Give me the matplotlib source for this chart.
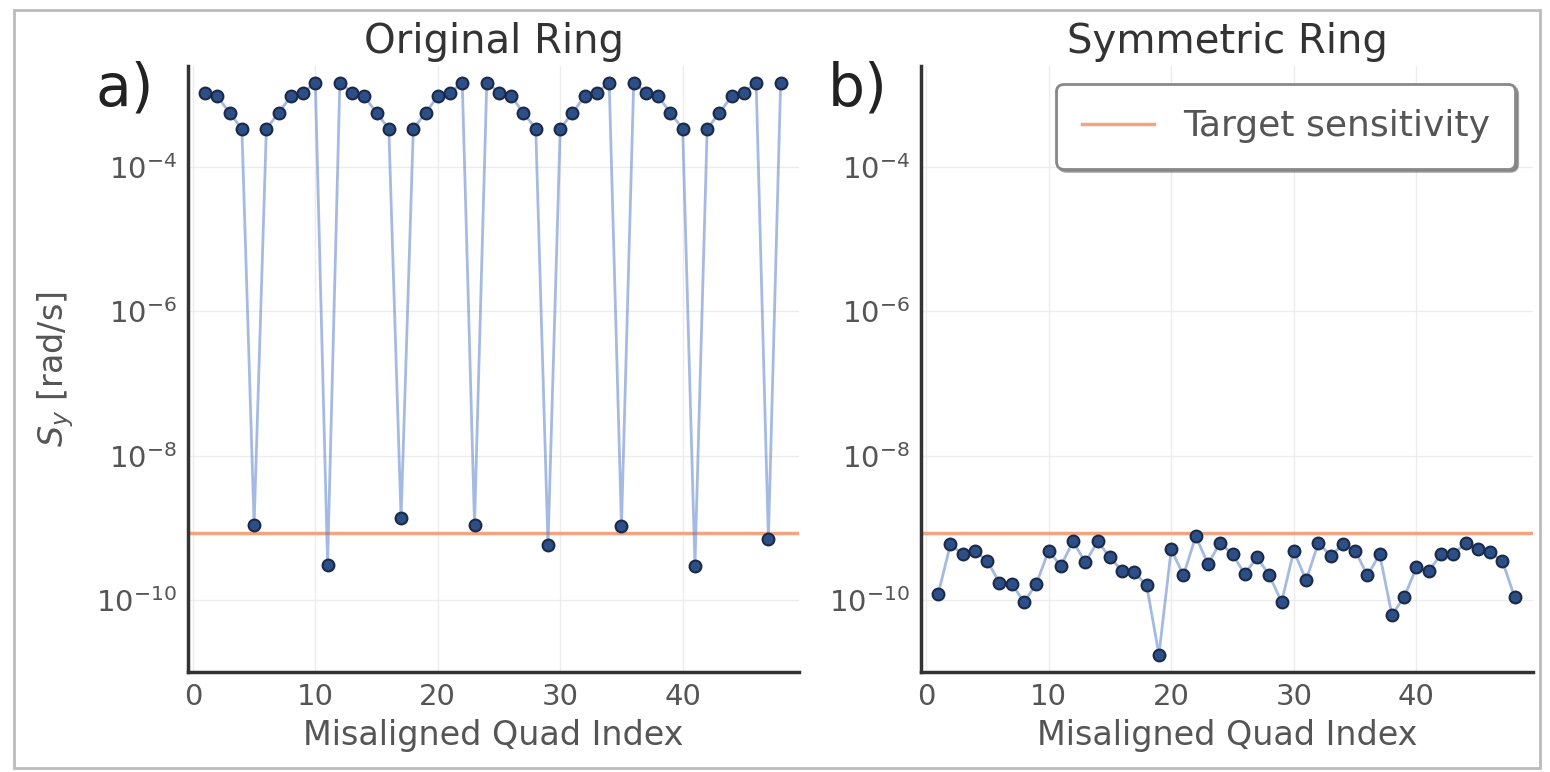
import numpy as np
import matplotlib
matplotlib.use("Agg")
import matplotlib.pyplot as plt
from matplotlib.patches import Rectangle

# quad index 1..48
quad_index = list(range(1, 49))

# log10 of S_y, original ring
orig_log = [-2.97, -3.02, -3.25, -3.47, -8.96, -3.47, -3.25, -3.02, -2.97, -2.83, -9.51, -2.83,
            -2.97, -3.02, -3.25, -3.47, -8.87, -3.47, -3.25, -3.02, -2.97, -2.83, -8.96, -2.83,
            -2.97, -3.02, -3.25, -3.47, -9.24, -3.47, -3.25, -3.02, -2.97, -2.83, -8.98, -2.83,
            -2.97, -3.02, -3.25, -3.47, -9.53, -3.47, -3.25, -3.02, -2.97, -2.83, -9.16, -2.83]

# symmetric ring
sym_log = [-9.92, -9.23, -9.37, -9.32, -9.46, -9.76, -9.78, -10.03, -9.78, -9.32, -9.53, -9.19,
           -9.48, -9.19, -9.41, -9.60, -9.62, -9.80, -10.76, -9.30, -9.66, -9.12, -9.50, -9.21,
           -9.37, -9.64, -9.41, -9.66, -10.03, -9.32, -9.73, -9.21, -9.39, -9.23, -9.32, -9.66,
           -9.37, -10.21, -9.96, -9.55, -9.60, -9.37, -9.37, -9.21, -9.30, -9.34, -9.46, -9.96]

target_log = -9.08

titles = ["Original Ring", "Symmetric Ring"]
panel_tags = ["a)", "b)"]
yticks = [1e-4, 1e-6, 1e-8, 1e-10]

grey = "#555555"
line_col = "#5b82cc"
mark_face = "#2d4f88"
mark_edge = "#1b2a48"
target_col = "#f2a580"

fig = plt.figure(figsize=(15.5, 7.72), dpi=100)
fig.patches.append(Rectangle((14/1550, 4/772), 1526/1550, 758/772, transform=fig.transFigure,
                             fill=False, edgecolor="#bbbbbb", lw=2))

ax1 = fig.add_axes([188/1550, 100/772, 611/1550, 606/772])
ax2 = fig.add_axes([921/1550, 100/772, 612/1550, 606/772])

for ax, data, title, tag in zip([ax1, ax2], [orig_log, sym_log], titles, panel_tags):
    vals = 10.0 ** np.array(data)
    ax.plot(quad_index, vals, "-", color=line_col, lw=2, alpha=0.55, zorder=2)
    ax.plot(quad_index, vals, "o", ms=8.5, mfc=mark_face, mec=mark_edge, mew=1.5, zorder=3)
    ax.axhline(10.0 ** target_log, color=target_col, lw=2.5, zorder=1,
               label="Target sensitivity")
    ax.set_yscale("log")
    ax.set_ylim(1e-11, 10 ** -2.6)
    ax.set_xlim(-0.4, 49.5)
    ax.set_yticks(yticks)
    ax.minorticks_off()
    ax.set_xticks([0, 10, 20, 30, 40])
    ax.grid(True, color="#ececec", lw=1)
    ax.set_axisbelow(True)
    for s in ["top", "right"]:
        ax.spines[s].set_visible(False)
    for s in ["left", "bottom"]:
        ax.spines[s].set_color("#333333")
        ax.spines[s].set_linewidth(2.5)
    ax.tick_params(length=0, labelsize=21, labelcolor=grey, pad=8)
    ax.set_title(title, fontsize=29, color="#333333", pad=9)
    ax.set_xlabel("Misaligned Quad Index", fontsize=24, color=grey, labelpad=6)
    ax.text(-0.152, 0.962, tag, transform=ax.transAxes, fontsize=42, color="#222222",
            ha="left", va="center")

ax1.set_ylabel("$S_y$ [rad/s]", fontsize=24, color=grey, labelpad=14)

leg = ax2.legend(loc="upper right", fontsize=26, borderpad=0.7,
                 frameon=True, fancybox=True, shadow=True, framealpha=1)
leg.get_frame().set_edgecolor("#888888")
leg.get_frame().set_linewidth(2)
for t in leg.get_texts():
    t.set_color(grey)

fig.savefig("out.png", dpi=100)
